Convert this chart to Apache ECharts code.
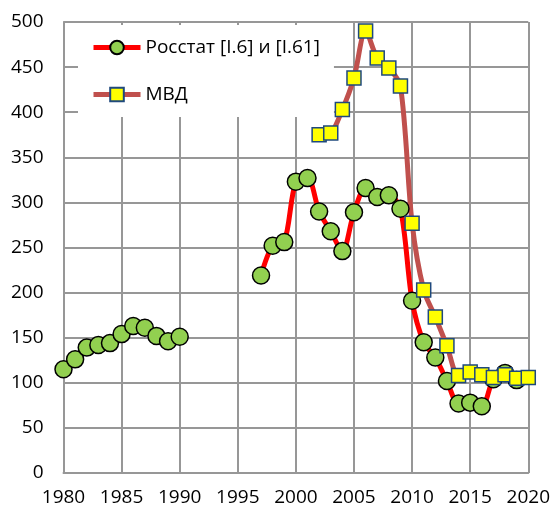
<!DOCTYPE html>
<html>
<head>
<meta charset="utf-8">
<script src="https://cdn.jsdelivr.net/npm/echarts@6/dist/echarts.min.js"></script>
<style>
  html, body { margin: 0; padding: 0; background: #fff; }
  #chart { width: 553px; height: 515px; }
</style>
</head>
<body>
<div id="chart"></div>
<script>
// Росстат: 1980–1990, разрыв, 1997–2019
const rosstatYears = [1980, 1981, 1982, 1983, 1984, 1985, 1986, 1987, 1988, 1989, 1990,
  1991,
  1997, 1998, 1999, 2000, 2001, 2002, 2003, 2004, 2005, 2006, 2007, 2008, 2009,
  2010, 2011, 2012, 2013, 2014, 2015, 2016, 2017, 2018, 2019]
const rosstatValues = [115, 126, 139, 142, 144, 154, 163, 161, 152, 146, 151,
  null,
  219, 252, 256, 323, 327, 290, 268, 246, 289, 316, 306, 308, 293,
  191, 145, 128, 102, 77, 78, 74, 104, 111, 103]

// МВД: 2002–2020
const mvdYears = [2002, 2003, 2004, 2005, 2006, 2007, 2008, 2009, 2010, 2011,
  2012, 2013, 2014, 2015, 2016, 2017, 2018, 2019, 2020]
const mvdValues = [375, 377, 403, 438, 490, 460, 449, 429, 277, 203,
  173, 141, 108, 112, 109, 106, 109, 105, 106]

const pairs = (xs, ys) => xs.map((x, i) => [x, ys[i]])

const font = 'Open Sans'
const gridColor = '#979797'

const chart = echarts.init(document.getElementById('chart'))
chart.setOption({
  animation: false,
  textStyle: { fontFamily: font },
  grid: { left: 63.5, right: 24, top: 22, bottom: 42 },
  legend: {
    orient: 'vertical',
    left: 78,
    top: 25,
    backgroundColor: '#fff',
    padding: [13, 14, 13, 13],
    itemGap: 28,
    itemWidth: 47,
    itemHeight: 17,
    lineStyle: { width: 5 },
    textStyle: { fontFamily: font, fontSize: 19, color: '#000' },
    data: ['Росстат [I.6] и [I.61]', 'МВД']
  },
  xAxis: {
    type: 'value',
    min: 1980,
    max: 2020,
    interval: 5,
    axisLine: { lineStyle: { color: gridColor, width: 2 } },
    axisTick: { show: false },
    axisLabel: { color: '#000', fontSize: 19, margin: 15, formatter: v => String(v) },
    splitLine: { show: true, lineStyle: { color: gridColor, width: 2 } }
  },
  yAxis: {
    type: 'value',
    min: 0,
    max: 500,
    interval: 50,
    axisLine: { show: true, lineStyle: { color: gridColor, width: 2 } },
    axisTick: { show: false },
    axisLabel: { color: '#000', fontSize: 19, margin: 20 },
    splitLine: { show: true, lineStyle: { color: gridColor, width: 2 } }
  },
  series: [
    {
      name: 'Росстат [I.6] и [I.61]',
      type: 'line',
      smooth: 0.3,
      data: pairs(rosstatYears, rosstatValues),
      symbol: 'circle',
      symbolSize: 17,
      lineStyle: { color: '#ff0000', width: 5 },
      itemStyle: { color: '#92d050', borderColor: '#000', borderWidth: 1.5 }
    },
    {
      name: 'МВД',
      type: 'line',
      smooth: 0.3,
      data: pairs(mvdYears, mvdValues),
      symbol: 'rect',
      symbolSize: 14,
      lineStyle: { color: '#c0504d', width: 5 },
      itemStyle: { color: '#ffff00', borderColor: '#1f497d', borderWidth: 1.5 }
    }
  ]
})
</script>
</body>
</html>
